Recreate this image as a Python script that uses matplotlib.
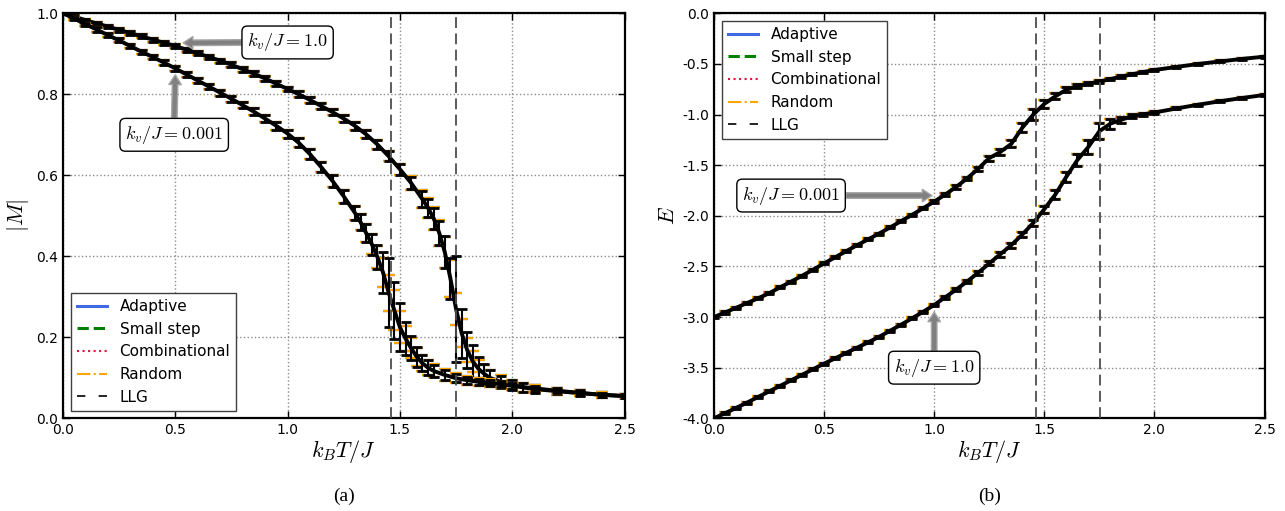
import matplotlib
matplotlib.use('Agg')
import matplotlib.pyplot as plt
from matplotlib.lines import Line2D
from matplotlib.ticker import FormatStrFormatter

plt.rcParams['mathtext.fontset'] = 'cm'
plt.rcParams['font.family'] = ['DejaVu Sans']

# ---- data ----
# |M| vs k_B T / J
T_m_hi = [0.00, 0.05, 0.10, 0.15, 0.20, 0.25, 0.30, 0.35, 0.40, 0.45, 0.50, 0.55, 0.60, 0.65,
          0.70, 0.75, 0.80, 0.85, 0.90, 0.95, 1.00, 1.05, 1.10, 1.15, 1.20, 1.25, 1.30, 1.35,
          1.40, 1.45, 1.50, 1.55, 1.60, 1.625, 1.65, 1.675, 1.70, 1.725, 1.75, 1.775, 1.80,
          1.825, 1.85, 1.875, 1.90, 1.95, 2.00, 2.05, 2.10, 2.20, 2.30, 2.40, 2.50]
M_hi = [1.000, 0.992, 0.983, 0.975, 0.967, 0.959, 0.951, 0.943, 0.935, 0.927, 0.919, 0.910,
        0.901, 0.892, 0.883, 0.873, 0.862, 0.851, 0.839, 0.826, 0.813, 0.800, 0.786, 0.771,
        0.756, 0.740, 0.722, 0.701, 0.676, 0.647, 0.615, 0.581, 0.541, 0.520, 0.494, 0.458,
        0.410, 0.345, 0.270, 0.210, 0.168, 0.140, 0.122, 0.110, 0.100, 0.090, 0.082, 0.076,
        0.072, 0.067, 0.062, 0.058, 0.055]
M_hi_err_llg = [0.002, 0.004, 0.004, 0.004, 0.004, 0.005, 0.005, 0.005, 0.005, 0.005, 0.005, 0.005,
                0.005, 0.005, 0.005, 0.006, 0.006, 0.006, 0.006, 0.006, 0.006, 0.007, 0.007, 0.007,
                0.008, 0.008, 0.009, 0.010, 0.011, 0.012, 0.014, 0.016, 0.020, 0.022, 0.026, 0.030,
                0.040, 0.050, 0.130, 0.060, 0.045, 0.040, 0.030, 0.025, 0.020, 0.015, 0.012, 0.010,
                0.009, 0.008, 0.007, 0.006, 0.006]
M_hi_err_mc = [0.002, 0.004, 0.004, 0.004, 0.004, 0.005, 0.005, 0.005, 0.005, 0.005, 0.005, 0.005,
               0.005, 0.005, 0.005, 0.006, 0.006, 0.006, 0.006, 0.006, 0.006, 0.007, 0.007, 0.007,
               0.008, 0.008, 0.009, 0.010, 0.011, 0.012, 0.014, 0.017, 0.022, 0.025, 0.028, 0.032,
               0.038, 0.045, 0.040, 0.035, 0.030, 0.025, 0.022, 0.021, 0.020, 0.016, 0.013, 0.011,
               0.010, 0.009, 0.008, 0.007, 0.006]

T_m_lo = [0.00, 0.05, 0.10, 0.15, 0.20, 0.25, 0.30, 0.35, 0.40, 0.45, 0.50, 0.55, 0.60, 0.65,
          0.70, 0.75, 0.80, 0.85, 0.90, 0.95, 1.00, 1.05, 1.10, 1.15, 1.20, 1.25, 1.30, 1.325,
          1.35, 1.375, 1.40, 1.425, 1.45, 1.475, 1.50, 1.525, 1.55, 1.575, 1.60, 1.625, 1.65,
          1.70, 1.75, 1.80, 1.85, 1.90, 1.95, 2.00, 2.10, 2.20, 2.30, 2.40, 2.50]
M_lo = [1.000, 0.987, 0.973, 0.960, 0.946, 0.933, 0.919, 0.905, 0.892, 0.878, 0.864, 0.849,
        0.834, 0.819, 0.804, 0.789, 0.773, 0.757, 0.740, 0.722, 0.703, 0.680, 0.652, 0.620,
        0.586, 0.548, 0.507, 0.484, 0.457, 0.430, 0.398, 0.360, 0.310, 0.267, 0.225, 0.197,
        0.173, 0.152, 0.136, 0.125, 0.117, 0.107, 0.099, 0.094, 0.090, 0.087, 0.084, 0.080,
        0.074, 0.068, 0.063, 0.058, 0.055]
M_lo_err_llg = [0.002, 0.004, 0.004, 0.005, 0.005, 0.005, 0.005, 0.005, 0.006, 0.006, 0.006, 0.006,
                0.006, 0.007, 0.007, 0.007, 0.008, 0.008, 0.008, 0.009, 0.010, 0.011, 0.012, 0.013,
                0.014, 0.016, 0.018, 0.020, 0.022, 0.026, 0.030, 0.050, 0.085, 0.070, 0.060, 0.040,
                0.030, 0.025, 0.020, 0.018, 0.015, 0.012, 0.010, 0.009, 0.008, 0.008, 0.007, 0.007,
                0.006, 0.006, 0.006, 0.005, 0.005]
M_lo_err_mc = [0.002, 0.004, 0.004, 0.005, 0.005, 0.005, 0.005, 0.005, 0.006, 0.006, 0.006, 0.006,
               0.006, 0.007, 0.007, 0.007, 0.008, 0.008, 0.008, 0.009, 0.010, 0.011, 0.012, 0.013,
               0.014, 0.016, 0.018, 0.020, 0.022, 0.025, 0.028, 0.035, 0.045, 0.050, 0.040, 0.030,
               0.025, 0.022, 0.020, 0.018, 0.016, 0.014, 0.012, 0.011, 0.010, 0.009, 0.008, 0.008,
               0.007, 0.007, 0.006, 0.006, 0.006]

# E vs k_B T / J
T_e = [0.00, 0.05, 0.10, 0.15, 0.20, 0.25, 0.30, 0.35, 0.40, 0.45, 0.50, 0.55, 0.60, 0.65,
       0.70, 0.75, 0.80, 0.85, 0.90, 0.95, 1.00, 1.05, 1.10, 1.15, 1.20, 1.25, 1.30, 1.35,
       1.40, 1.45, 1.50, 1.55, 1.60, 1.65, 1.70, 1.75, 1.80, 1.85, 1.90, 1.95, 2.00, 2.10,
       2.20, 2.30, 2.40, 2.50]
E_lo_kv = [-3.000, -2.955, -2.909, -2.862, -2.815, -2.765, -2.707, -2.650, -2.592, -2.532, -2.470,
           -2.410, -2.350, -2.290, -2.233, -2.175, -2.115, -2.052, -1.990, -1.925, -1.860, -1.790,
           -1.715, -1.630, -1.535, -1.430, -1.370, -1.290, -1.130, -1.000, -0.895, -0.820, -0.755,
           -0.720, -0.695, -0.675, -0.650, -0.625, -0.602, -0.580, -0.560, -0.530, -0.500, -0.475,
           -0.450, -0.428]
E_hi_kv = [-4.000, -3.950, -3.898, -3.845, -3.790, -3.735, -3.680, -3.625, -3.570, -3.515, -3.460,
           -3.408, -3.355, -3.302, -3.250, -3.195, -3.135, -3.075, -3.012, -2.948, -2.880, -2.805,
           -2.728, -2.648, -2.562, -2.470, -2.380, -2.290, -2.185, -2.070, -1.935, -1.790, -1.615,
           -1.450, -1.320, -1.165, -1.090, -1.050, -1.018, -0.998, -0.980, -0.940, -0.902, -0.868,
           -0.836, -0.806]
E_lo_err = [0.01, 0.01, 0.01, 0.01, 0.01, 0.01, 0.01, 0.01, 0.01, 0.01, 0.01, 0.01, 0.01, 0.01,
            0.01, 0.01, 0.01, 0.01, 0.012, 0.012, 0.014, 0.015, 0.016, 0.018, 0.02, 0.025, 0.03,
            0.035, 0.045, 0.05, 0.04, 0.03, 0.025, 0.02, 0.018, 0.015, 0.013, 0.012, 0.011, 0.01,
            0.01, 0.01, 0.01, 0.01, 0.01, 0.01]
E_hi_err = [0.01, 0.01, 0.01, 0.01, 0.01, 0.01, 0.01, 0.01, 0.01, 0.01, 0.01, 0.01, 0.01, 0.01,
            0.01, 0.01, 0.01, 0.01, 0.012, 0.012, 0.013, 0.014, 0.015, 0.016, 0.018, 0.02, 0.022,
            0.025, 0.028, 0.03, 0.035, 0.04, 0.05, 0.06, 0.07, 0.08, 0.05, 0.03, 0.02, 0.015,
            0.012, 0.01, 0.01, 0.01, 0.01, 0.01]

T_crit = [1.462, 1.752]

methods = ['Adaptive', 'Small step', 'Combinational', 'Random']
method_colors = ['royalblue', 'green', 'crimson', 'orange']
method_styles = ['-', '--', ':', '-.']


def draw_series(ax, T, y, err_mc, err_llg):
    for c, ls in zip(method_colors, method_styles):
        ax.errorbar(T, y, yerr=err_mc, fmt='none', ecolor=c, elinewidth=1.2,
                    capsize=4.5, capthick=1.5)
        ax.plot(T, y, color=c, ls=ls, lw=1.5)
    ax.errorbar(T, y, yerr=err_llg, fmt='none', ecolor='black', elinewidth=1.5,
                capsize=3.8, capthick=2)
    ax.plot(T, y, color='black', lw=2.8)


def style_axes(ax):
    ax.set_xlim(0, 2.5)
    ax.set_xticks([0.0, 0.5, 1.0, 1.5, 2.0, 2.5])
    ax.grid(True, ls=':', color='0.55', lw=1)
    ax.set_axisbelow(True)
    ax.tick_params(direction='in', top=True, right=True, length=5, width=1, labelsize=10)
    for s in ax.spines.values():
        s.set_linewidth(1.6)
    for tc in T_crit:
        ax.axvline(tc, color='0.3', lw=1.3, dashes=(6, 3), zorder=5)


def legend_handles():
    hs = [Line2D([], [], color=c, ls=ls, lw=2.2 if ls in ('-', '--') else 1.5)
          for c, ls in zip(method_colors, method_styles)]
    hs.append(Line2D([], [], color='black', lw=1.2, dashes=(5, 8)))
    return hs


box = dict(boxstyle='round,pad=0.3', fc='white', ec='black', lw=1)
arrow = dict(fc='0.5', ec='0.65', width=4, headwidth=9, headlength=7, shrink=0.0)

fig = plt.figure(figsize=(12.85, 5.11), dpi=100)
ax1 = fig.add_axes([63 / 1285, 92.7 / 511, 561.5 / 1285, 405 / 511])
ax2 = fig.add_axes([714 / 1285, 92.7 / 511, 550.5 / 1285, 405 / 511])

# (a) magnetisation
draw_series(ax1, T_m_hi, M_hi, M_hi_err_mc, M_hi_err_llg)
draw_series(ax1, T_m_lo, M_lo, M_lo_err_mc, M_lo_err_llg)
style_axes(ax1)
ax1.set_ylim(0, 1.0)
ax1.set_yticks([0.0, 0.2, 0.4, 0.6, 0.8, 1.0])
ax1.set_xlabel(r'$k_BT/J$', fontsize=16, va='center')
ax1.xaxis.set_label_coords(0.5, -0.0825)
ax1.set_ylabel(r'$|M|$', fontsize=16, va='center')
ax1.yaxis.set_label_coords(-0.081, 0.5)
ax1.annotate(r'$k_v/J=1.0$', xy=(0.535, 0.927), xytext=(1.0, 0.928), fontsize=13,
             ha='center', va='center', bbox=box, arrowprops=arrow, zorder=10)
ax1.annotate(r'$k_v/J=0.001$', xy=(0.5, 0.848), xytext=(0.495, 0.70), fontsize=13,
             ha='center', va='center', bbox=box, arrowprops=arrow, zorder=10)
ax1.legend(legend_handles(), methods + ['LLG'], loc='lower left', fontsize=11,
           fancybox=False, edgecolor='0.25', framealpha=1, borderaxespad=0.5,
           handlelength=2.0).set_zorder(20)

# (b) energy
draw_series(ax2, T_e, E_lo_kv, E_lo_err, E_lo_err)
draw_series(ax2, T_e, E_hi_kv, E_hi_err, E_hi_err)
style_axes(ax2)
ax2.set_ylim(-4.0, 0.0)
ax2.set_yticks([-4.0, -3.5, -3.0, -2.5, -2.0, -1.5, -1.0, -0.5, 0.0])
ax2.yaxis.set_major_formatter(FormatStrFormatter('%.1f'))
ax2.set_xlabel(r'$k_BT/J$', fontsize=16, va='center')
ax2.xaxis.set_label_coords(0.5, -0.0825)
ax2.set_ylabel(r'$E$', fontsize=16, labelpad=3)
ax2.annotate(r'$k_v/J=0.001$', xy=(0.99, -1.80), xytext=(0.35, -1.80), fontsize=13,
             ha='center', va='center', bbox=box, arrowprops=arrow, zorder=10)
ax2.annotate(r'$k_v/J=1.0$', xy=(1.0, -2.95), xytext=(1.0, -3.50), fontsize=13,
             ha='center', va='center', bbox=box, arrowprops=arrow, zorder=10)
ax2.legend(legend_handles(), methods + ['LLG'], loc='upper left', fontsize=11,
           fancybox=False, edgecolor='0.25', framealpha=1, borderaxespad=0.5,
           handlelength=2.0).set_zorder(20)

fig.text(343.5 / 1285, 1 - 496.7 / 511, '(a)', family='Liberation Serif', fontsize=14,
         ha='center', va='center')
fig.text(989.3 / 1285, 1 - 496.7 / 511, '(b)', family='Liberation Serif', fontsize=14,
         ha='center', va='center')

fig.savefig('out.png', dpi=100)
